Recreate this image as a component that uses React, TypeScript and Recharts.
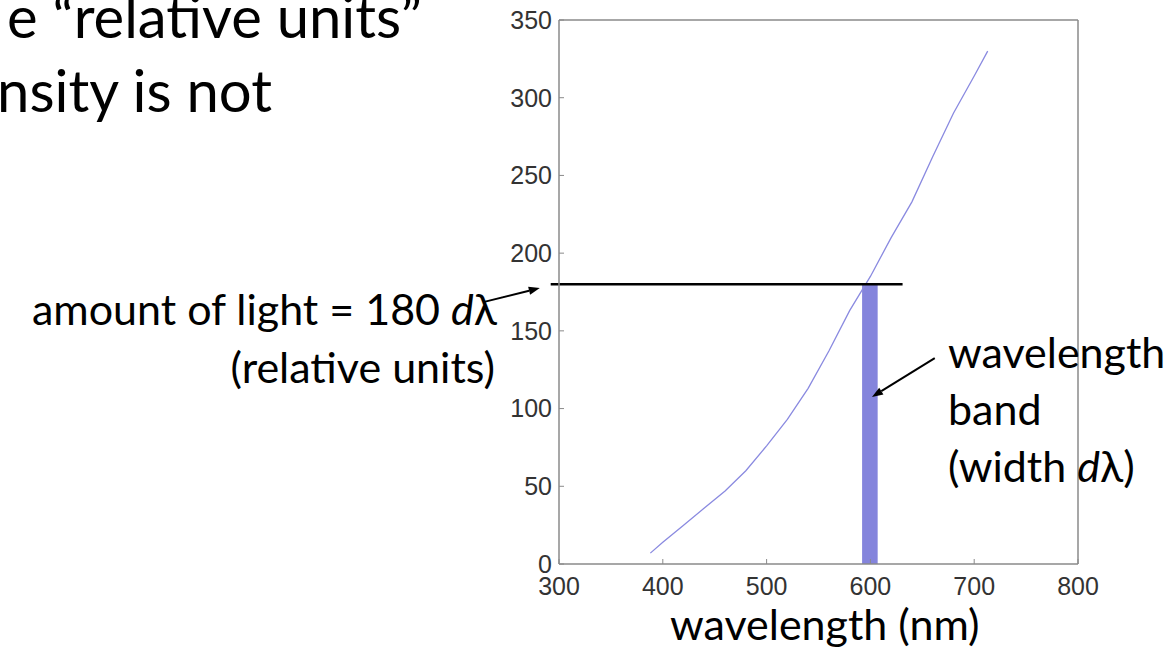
import { ComposedChart, Line, XAxis, YAxis, ReferenceArea, ReferenceLine } from "recharts";

// spectrum (nm -> relative amount)
const wavelengths = [388, 400, 420, 440, 460, 480, 500, 520, 540, 560, 580, 600, 620, 640, 660, 680, 700, 713];
const amounts = [7, 14, 25, 36, 47, 60, 76, 93, 113, 137, 163, 185, 210, 233, 262, 290, 314, 330];

const xTicks = [300, 400, 500, 600, 700, 800];
const yTicks = [0, 50, 100, 150, 200, 250, 300, 350];

// the highlighted band and the level it reaches
const bandStart = 592;
const bandEnd = 607;
const bandLevel = 180;
const levelLineFrom = 292;
const levelLineTo = 631;

// annotation arrows, in data units (tail, head)
const levelArrow = [{ x: 227, y: 168.5 }, { x: 281.5, y: 177.5 }];
const bandArrow = [{ x: 662, y: 132.5 }, { x: 601.5, y: 107.5 }];

const data = wavelengths.map((nm, i) => ({ nm, amount: amounts[i] }));

const axisColor = "#8a8a8a";
const tickFont = { fontSize: 25, fill: "#333", fontFamily: "Liberation Sans, Arial, sans-serif" };
const textFont = "Lato, 'Open Sans', sans-serif";

function ArrowShape(props: any) {
  const { x1, y1, x2, y2 } = props;
  const a = Math.atan2(y2 - y1, x2 - x1);
  const len = 11;
  const w = 4;
  const bx = x2 - len * Math.cos(a);
  const by = y2 - len * Math.sin(a);
  const px = -Math.sin(a) * w;
  const py = Math.cos(a) * w;
  return (
    <g>
      <line x1={x1} y1={y1} x2={bx} y2={by} stroke="#000" strokeWidth={2} />
      <polygon points={`${x2},${y2} ${bx + px},${by + py} ${bx - px},${by - py}`} fill="#000" />
    </g>
  );
}

export default function App() {
  return (
    <div
      style={{
        position: "absolute",
        left: 0,
        top: 0,
        width: 1168,
        height: 663,
        overflow: "hidden",
        background: "#fff",
      }}
    >
      <ComposedChart width={1168} height={663} data={data} margin={{ top: 19, right: 89, bottom: 59, left: 0 }}>
        <XAxis
          dataKey="nm"
          type="number"
          domain={[300, 800]}
          ticks={xTicks}
          allowDataOverflow
          height={40}
          tickSize={-5}
          tickMargin={18}
          axisLine={{ stroke: axisColor, strokeWidth: 1.5 }}
          tickLine={{ stroke: axisColor }}
          tick={tickFont}
        />
        <XAxis
          xAxisId="top"
          orientation="top"
          dataKey="nm"
          type="number"
          domain={[300, 800]}
          ticks={xTicks}
          allowDataOverflow
          height={1}
          tickSize={-5}
          axisLine={{ stroke: axisColor, strokeWidth: 1.5 }}
          tickLine={{ stroke: axisColor }}
          tick={false}
        />
        <YAxis
          type="number"
          domain={[0, 350]}
          ticks={yTicks}
          allowDataOverflow
          width={559}
          tickSize={-5}
          tickMargin={12}
          axisLine={{ stroke: axisColor, strokeWidth: 1.5 }}
          tickLine={{ stroke: axisColor }}
          tick={tickFont}
        />
        <YAxis
          yAxisId="right"
          orientation="right"
          type="number"
          domain={[0, 350]}
          ticks={yTicks}
          allowDataOverflow
          width={1}
          tickSize={-5}
          axisLine={{ stroke: axisColor, strokeWidth: 1.5 }}
          tickLine={{ stroke: axisColor }}
          tick={false}
        />
        <ReferenceArea x1={bandStart} x2={bandEnd} y1={0} y2={bandLevel} fill="#8484dc" fillOpacity={1} stroke="none" />
        <Line
          dataKey="amount"
          stroke="#8a8ae0"
          strokeWidth={1.3}
          dot={false}
          isAnimationActive={false}
        />
        <ReferenceLine
          segment={[{ x: levelLineFrom, y: bandLevel }, { x: levelLineTo, y: bandLevel }]}
          stroke="#000"
          strokeWidth={2.5}
          ifOverflow="visible"
        />
        <ReferenceLine segment={levelArrow} ifOverflow="visible" shape={ArrowShape} />
        <ReferenceLine segment={bandArrow} ifOverflow="visible" shape={ArrowShape} />
      </ComposedChart>
      <svg
        width={1168}
        height={663}
        style={{ position: "absolute", left: 0, top: 0, pointerEvents: "none" }}
        fontFamily={textFont}
        fill="#000"
      >
        <text x={422} y={38} fontSize={58} textAnchor="end">e “relative units”</text>
        <text x={272} y={112} fontSize={58} textAnchor="end">nsity is not</text>
        <text x={497} y={325} fontSize={43} textAnchor="end">
          amount of light = 180 <tspan fontStyle="italic">d</tspan>λ
        </text>
        <text x={495} y={383} fontSize={43} textAnchor="end">(relative units)</text>
        <text x={948} y={368} fontSize={43}>wavelength</text>
        <text x={948} y={425} fontSize={43}>band</text>
        <text x={948} y={482} fontSize={43}>
          (width <tspan fontStyle="italic">d</tspan>λ)
        </text>
        <text x={670} y={640} fontSize={43}>wavelength (nm)</text>
      </svg>
    </div>
  );
}
